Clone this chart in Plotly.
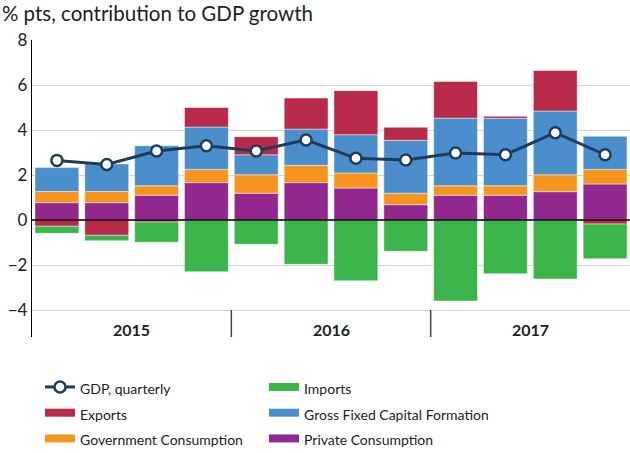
import plotly.graph_objects as go

quarters = ["2015Q1", "2015Q2", "2015Q3", "2015Q4",
            "2016Q1", "2016Q2", "2016Q3", "2016Q4",
            "2017Q1", "2017Q2", "2017Q3", "2017Q4"]
years = ["2015", "2016", "2017"]
private_cons = [0.77, 0.77, 1.10, 1.66, 1.19, 1.66, 1.42, 0.68, 1.10, 1.10, 1.26, 1.60]
gov_cons = [0.50, 0.50, 0.42, 0.59, 0.82, 0.77, 0.67, 0.51, 0.42, 0.42, 0.75, 0.65]
gfcf = [1.06, 1.22, 1.78, 1.88, 0.89, 1.61, 1.70, 2.35, 3.01, 3.00, 2.83, 1.47]
exports = [-0.28, -0.68, -0.09, 0.87, 0.80, 1.38, 1.96, 0.58, 1.63, 0.09, 1.80, -0.18]
imports = [-0.31, -0.24, -0.90, -2.30, -1.08, -1.97, -2.70, -1.39, -3.60, -2.39, -2.62, -1.54]
gdp = [2.65, 2.47, 3.07, 3.30, 3.07, 3.56, 2.74, 2.67, 2.98, 2.90, 3.88, 2.90]

series = [
    ("Private Consumption", private_cons, "#92278f", 6),
    ("Government Consumption", gov_cons, "#f7941d", 5),
    ("Gross Fixed Capital Formation", gfcf, "#4a8fcc", 4),
    ("Exports", exports, "#b8294a", 3),
    ("Imports", imports, "#3bb54a", 2),
]

def lbl(t):
    return '<span style="font-size:14px">' + t + '</span>'

x = list(range(len(quarters)))
edge = dict(color="rgba(255,255,255,0.45)", width=1)

fig = go.Figure()
for name, vals, col, rank in series:
    fig.add_bar(x=x, y=vals, name=name, marker=dict(color=col, line=edge), showlegend=False)
fig.add_scatter(x=x, y=gdp, name=lbl("GDP, quarterly"), mode="lines+markers",
                line=dict(color="#1d3c5e", width=3),
                marker=dict(color="white", size=11, line=dict(color="#1d3c5e", width=2.5)),
                legendrank=1)
# legend swatches (wide rectangles)
for name, vals, col, rank in series:
    fig.add_scatter(x=[None], y=[None], name=lbl(name), mode="lines",
                    line=dict(color=col, width=8), legendrank=rank)

# year labels and dividers
for i, yr in enumerate(years):
    fig.add_annotation(x=4 * i + 1.5, y=-4.85, xref="x", yref="y", text="<b>" + yr + "</b>",
                       showarrow=False, font=dict(size=16, color="#222"))
for i in range(1, len(years)):
    fig.add_shape(type="line", x0=4 * i - 0.5, x1=4 * i - 0.5, y0=-4, y1=-5.2,
                  xref="x", yref="y", line=dict(color="#444", width=1.5))
fig.add_shape(type="line", x0=-0.5, x1=11.5, y0=0, y1=0, xref="x", yref="y",
              line=dict(color="black", width=1.3))

fig.update_layout(
    width=630, height=453,
    barmode="relative", bargap=0.12,
    plot_bgcolor="white", paper_bgcolor="white",
    margin=dict(l=32, r=0, t=40, b=116, autoexpand=False),
    font=dict(family="Lato, Open Sans, sans-serif", size=16, color="#222"),
    title=dict(text="% pts, contribution to GDP growth", x=0.003, xanchor="left",
               y=0.985, yanchor="top", font=dict(size=20.5, color="#222")),
    xaxis=dict(range=[-0.5, 11.5], showticklabels=False, showgrid=False, zeroline=False,
               ticks="", showline=False),
    yaxis=dict(range=[-5.2, 8], tickvals=[-4, -2, 0, 2, 4, 6, 8], showgrid=True,
               gridcolor="#d4d4d4", gridwidth=1.3, zeroline=False, showline=True,
               linecolor="black", linewidth=1.3, ticks="", tickfont=dict(size=17)),
    legend=dict(orientation="h", x=0.0134, xanchor="left", y=-0.108, yanchor="top",
                entrywidth=179, entrywidthmode="pixels", traceorder="normal",
                font=dict(size=17.5), tracegroupgap=0, itemwidth=30),
    showlegend=True,
)

fig.write_html("out.html", config={"displayModeBar": False},
               post_script="document.body.style.margin='0';")
